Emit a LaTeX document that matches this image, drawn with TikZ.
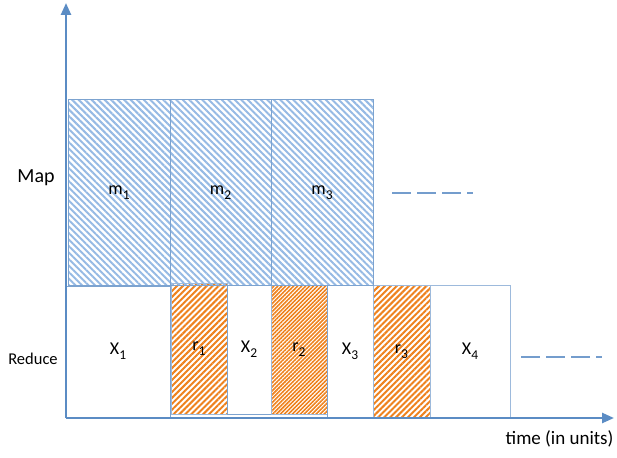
\documentclass[tikz,border=0pt]{standalone}
\usepackage{fontspec}
\setmainfont{Carlito}
\usetikzlibrary{patterns.meta,arrows.meta}

\definecolor{axisblue}{RGB}{91,140,196}
\definecolor{hatchblue}{RGB}{150,186,228}
\definecolor{hatchorange}{RGB}{238,130,30}

\newcommand{\lowidx}[1]{\raisebox{-0.55ex}{\fontsize{13.5}{14}\selectfont #1}}

\tikzset{
  axis/.style={draw=axisblue, line width=2.4pt, -{Triangle[length=12pt,width=10pt]}},
  mapbox/.style={draw=axisblue!80, line width=1pt, inner sep=0, outer sep=0,
    anchor=south west, minimum height=185pt,
    pattern={Lines[angle=-45,distance=4.6pt,line width=2pt]}, pattern color=hatchblue,
    font=\fontsize{18}{20}\selectfont},
  redbox/.style={draw=axisblue!80, line width=0.8pt, inner sep=0, outer sep=0,
    anchor=south west, minimum height=131pt, fill=white,
    font=\fontsize{18}{20}\selectfont},
  rbox/.style={redbox, draw=axisblue!60, pattern={Lines[angle=45,distance=4.2pt,line width=2pt]}, pattern color=hatchorange},
  rboxdense/.style={rbox, pattern={Lines[angle=45,distance=2.8pt,line width=1.6pt]}},
  more/.style={draw=axisblue!85, line width=2.6pt, dash pattern=on 19pt off 6pt},
  rowlabel/.style={anchor=center},
}

\begin{document}
\begin{tikzpicture}[x=1pt,y=-1pt]
    \useasboundingbox (0,0) rectangle (617,457);
    \coordinate (O) at (66,418);
    % reduce row
    \node[redbox, minimum width=104pt] (X1) at (66,417) {X\lowidx{1}};
    \node[rbox, minimum width=56pt] (r1) at (171,414) {r\lowidx{1}};
    \node[redbox, minimum width=44pt, minimum height=129pt] (X2) at (227,414) {X\lowidx{2}};
    \node[rboxdense, minimum width=56pt, minimum height=129pt] (r2) at (271,414) {r\lowidx{2}};
    \node[redbox, minimum width=46pt, minimum height=132pt] (X3) at (327,417) {X\lowidx{3}};
    \node[rbox, minimum width=57pt, minimum height=133pt] (r3) at (373,418) {r\lowidx{3}};
    \node[redbox, minimum width=80pt, minimum height=132pt, draw=axisblue!60] (X4) at (430,417) {X\lowidx{4}};
    % map row
    \node[mapbox, minimum width=102pt] (m1) at (68,285) {m\lowidx{1}};
    \node[mapbox, minimum width=101pt] (m2) at (170,285) {m\lowidx{2}};
    \node[mapbox, minimum width=102pt] (m3) at (271,285) {m\lowidx{3}};
    % axes
    \coordinate (ytip) at (66,3);
    \coordinate (xtip) at (614,418);
    \draw[axis] (O) -- (ytip);
    \draw[axis] (O) -- (xtip);
    \coordinate (mapdots) at (392,193);
    \coordinate (mapdotsend) at (473,193);
    \coordinate (reddots) at (521,357);
    \coordinate (reddotsend) at (602,357);
    \draw[more] (mapdots) -- (mapdotsend);
    \draw[more] (reddots) -- (reddotsend);
    \node[rowlabel, font=\fontsize{20}{22}\selectfont] (maplbl) at (36,178) {Map};
    \node[rowlabel, font=\fontsize{16.5}{18}\selectfont] (redlbl) at (33,359) {Reduce};
    \node[font=\fontsize{19}{21}\selectfont, anchor=east] (tlbl) at (617,439) {time (in units)};
\end{tikzpicture}
\end{document}
